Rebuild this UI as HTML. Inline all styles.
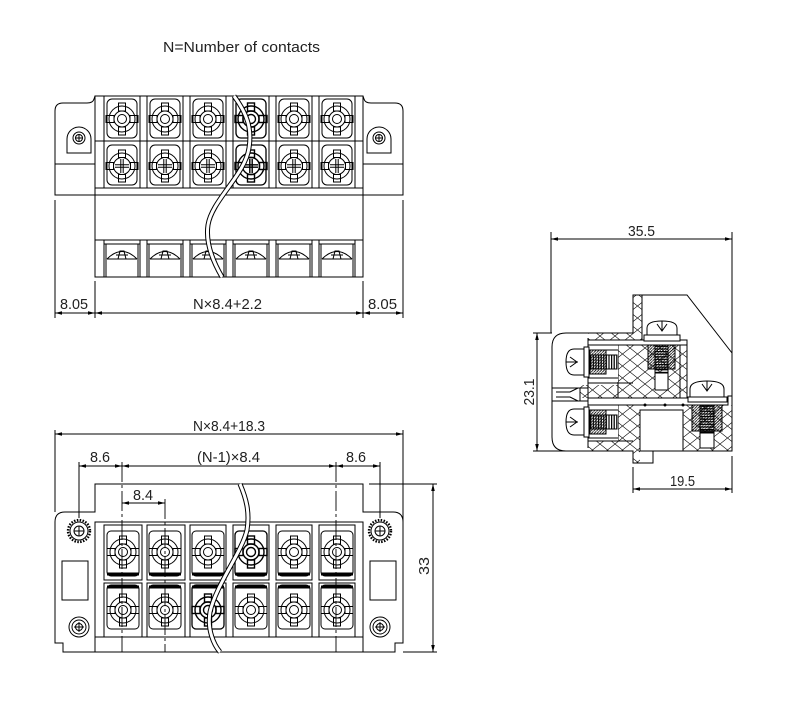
<!DOCTYPE html>
<html><head><meta charset="utf-8"><style>
html,body{margin:0;padding:0;background:#fff;}
svg{display:block;}
text{font-family:"Liberation Sans",sans-serif;fill:#222;font-size:15px;}
</style></head><body>
<svg width="800" height="724" viewBox="0 0 800 724" xmlns="http://www.w3.org/2000/svg">
<defs>
<pattern id="xh" width="15" height="12" patternUnits="userSpaceOnUse"><path d="M0 0L15 12M15 0L0 12" stroke="#000" stroke-width="0.6" fill="none"/></pattern>
<pattern id="dh" width="2.8" height="2.8" patternUnits="userSpaceOnUse"><path d="M-1 3.8L3.8 -1" stroke="#000" stroke-width="0.8"/></pattern>
<pattern id="vl" width="2.6" height="4" patternUnits="userSpaceOnUse"><rect width="1.2" height="4" fill="#000"/></pattern>
<pattern id="hl" width="4" height="2.6" patternUnits="userSpaceOnUse"><rect width="4" height="1.2" fill="#000"/></pattern>
<g id="m">
 <circle r="13"/>
 <circle r="8"/>
 <circle r="4.5"/>
 <rect x="-3.5" y="-16" width="7" height="8"/>
 <rect x="-3.5" y="8" width="7" height="8"/>
 <rect x="-16" y="-3.5" width="8" height="7"/>
 <rect x="8" y="-3.5" width="8" height="7"/>
</g>
<g id="mx">
 <circle r="13"/>
 <circle r="8.5"/>
 <rect x="-3.5" y="-16" width="7" height="7.5"/>
 <rect x="-3.5" y="8.5" width="7" height="7.5"/>
 <rect x="-16" y="-3.5" width="7.5" height="7"/>
 <rect x="8.5" y="-3.5" width="7.5" height="7"/>
 <path d="M-7 -1.2H7M-7 1.2H7M-1.2 -7V7M1.2 -7V7"/>
</g>
<g id="lp">
 <path d="M-18 4H18M-16 4V37M16 4V37"/>
 <path d="M-15 19Q0 4 15 19"/>
 <path d="M-15 19H15"/>
 <path d="M-4 19L-2 11H2L4 19"/>
 <path d="M-6 15H6"/>
</g>
<g id="tw">
 <circle r="11" stroke-width="2.4" stroke-dasharray="1.5 1.4"/>
 <circle r="9"/>
 <circle r="5"/>
 <path d="M0 -5V5M-5 0H5"/>
</g>
<g id="sc">
 <circle r="10"/>
 <circle r="7"/>
 <circle r="3.5"/>
 <path d="M0 -5V5M-5 0H5"/>
</g>
</defs>

<rect width="800" height="724" fill="#fff"/>

<text x="163" y="52" textLength="157" lengthAdjust="spacingAndGlyphs">N=Number of contacts</text>

<!-- ================= TOP VIEW ================= -->
<g fill="none" stroke="#000" stroke-width="1">
 <path d="M55 195 L55 111 Q55 103 63 103 L87 103 Q93 103 94 99 L95 96 L363 96 L364 99 Q365 103 371 103 L395 103 Q403 103 403 111 L403 195 Z"/>
 <rect x="95" y="96" width="268" height="181"/>
 <path d="M55 164H95M363 164H403"/>
 <path d="M95 141H363M95 188H363M95 240H363"/>
 <path d="M67 153V139A12 12 0 0 1 91 139V153Z"/>
 <circle cx="79" cy="138" r="6"/><circle cx="79" cy="138" r="3.5"/><path d="M79 134V142M75 138H83"/>
 <path d="M367 153V139A12 12 0 0 1 391 139V153Z"/>
 <circle cx="379" cy="138" r="6"/><circle cx="379" cy="138" r="3.5"/><path d="M379 134V142M375 138H383"/>
 <rect x="104" y="96" width="36" height="92"/>
 <rect x="147" y="96" width="36" height="92"/>
 <rect x="190" y="96" width="36" height="92"/>
 <rect x="233" y="96" width="36" height="92"/>
 <rect x="276" y="96" width="36" height="92"/>
 <rect x="319" y="96" width="36" height="92"/>
 <path d="M104 141H355"/>
 <rect x="104" y="240" width="36" height="37"/>
 <rect x="147" y="240" width="36" height="37"/>
 <rect x="190" y="240" width="36" height="37"/>
 <rect x="233" y="240" width="36" height="37"/>
 <rect x="276" y="240" width="36" height="37"/>
 <rect x="319" y="240" width="36" height="37"/>
 <rect x="107" y="99" width="30" height="39" rx="5"/>
 <rect x="150" y="99" width="30" height="39" rx="5"/>
 <rect x="193" y="99" width="30" height="39" rx="5"/>
 <rect x="236" y="99" width="30" height="39" rx="5" stroke-width="1.3"/>
 <rect x="279" y="99" width="30" height="39" rx="5"/>
 <rect x="322" y="99" width="30" height="39" rx="5"/>
 <rect x="107" y="145" width="30" height="40" rx="5"/>
 <rect x="150" y="145" width="30" height="40" rx="5"/>
 <rect x="193" y="145" width="30" height="40" rx="5"/>
 <rect x="236" y="145" width="30" height="40" rx="5" stroke-width="1.3"/>
 <rect x="279" y="145" width="30" height="40" rx="5"/>
 <rect x="322" y="145" width="30" height="40" rx="5"/>
 <use href="#m" x="122" y="119"/>
 <use href="#m" x="165" y="119"/>
 <use href="#m" x="208" y="119"/>
 <use href="#m" x="251" y="119" stroke-width="1.4"/>
 <use href="#m" x="294" y="119"/>
 <use href="#m" x="337" y="119"/>
 <use href="#mx" x="122" y="166"/>
 <use href="#mx" x="165" y="166"/>
 <use href="#mx" x="208" y="166"/>
 <use href="#mx" x="251" y="166" stroke-width="1.4"/>
 <use href="#mx" x="294" y="166"/>
 <use href="#mx" x="337" y="166"/>
 <use href="#lp" x="122" y="240"/>
 <use href="#lp" x="165" y="240"/>
 <use href="#lp" x="208" y="240"/>
 <use href="#lp" x="251" y="240"/>
 <use href="#lp" x="294" y="240"/>
 <use href="#lp" x="337" y="240"/>
 <path d="M234 96 C248 115,252 130,249 148 C245 175,212 200,208 225 C205 245,215 265,222 277" stroke-width="5"/>
 <path d="M234 96 C248 115,252 130,249 148 C245 175,212 200,208 225 C205 245,215 265,222 277" stroke="#fff" stroke-width="3"/>
 <path d="M55 200V318M95 281V318M363 281V318M403 200V318M55 313H403"/>
</g>
<g fill="#000">
 <polygon points="55,313 62,311.2 62,314.8"/>
 <polygon points="95,313 88,311.2 88,314.8"/>
 <polygon points="95,313 102,311.2 102,314.8"/>
 <polygon points="363,313 356,311.2 356,314.8"/>
 <polygon points="363,313 370,311.2 370,314.8"/>
 <polygon points="403,313 396,311.2 396,314.8"/>
</g>
<text x="60" y="309" textLength="28" lengthAdjust="spacingAndGlyphs">8.05</text>
<text x="193" y="309" textLength="69" lengthAdjust="spacingAndGlyphs">N×8.4+2.2</text>
<text x="368" y="309" textLength="29" lengthAdjust="spacingAndGlyphs">8.05</text>

<!-- ================= BOTTOM VIEW ================= -->
<g fill="none" stroke="#000" stroke-width="1">
 <path d="M63 652 L63 643 L55 643 L55 522 Q55 512 65 512 L95 512 L95 484 L363 484 L363 512 L393 512 Q403 512 403 522 L403 643 L395 643 L395 652 Z"/>
 <rect x="95" y="522" width="268" height="130"/>
 <path d="M95 637H363"/>
 <rect x="62" y="561" width="26" height="39"/>
 <rect x="370" y="561" width="26" height="39"/>
 <use href="#tw" x="79" y="531"/>
 <use href="#tw" x="380" y="531"/>
 <use href="#sc" x="79" y="627"/>
 <use href="#sc" x="380" y="627"/>
 <rect x="104" y="525" width="38" height="55"/>
 <rect x="147" y="525" width="38" height="55"/>
 <rect x="190" y="525" width="36" height="55"/>
 <rect x="233" y="525" width="36" height="55"/>
 <rect x="276" y="525" width="36" height="55"/>
 <rect x="319" y="525" width="36" height="55"/>
 <rect x="104" y="583" width="38" height="54"/>
 <rect x="147" y="583" width="38" height="54"/>
 <rect x="190" y="583" width="36" height="54"/>
 <rect x="233" y="583" width="36" height="54"/>
 <rect x="276" y="583" width="36" height="54"/>
 <rect x="319" y="583" width="36" height="54"/>
 <rect x="107" y="531" width="32" height="45" rx="4"/>
 <rect x="149" y="531" width="32" height="45" rx="4"/>
 <rect x="192" y="531" width="32" height="45" rx="4"/>
 <rect x="235" y="531" width="32" height="45" rx="4" stroke-width="1.3"/>
 <rect x="278" y="531" width="32" height="45" rx="4"/>
 <rect x="321" y="531" width="32" height="45" rx="4"/>
 <rect x="107" y="585" width="32" height="44" rx="4"/>
 <rect x="149" y="585" width="32" height="44" rx="4"/>
 <rect x="192" y="585" width="32" height="44" rx="4" stroke-width="1.3"/>
 <rect x="235" y="585" width="32" height="44" rx="4"/>
 <rect x="278" y="585" width="32" height="44" rx="4"/>
 <rect x="321" y="585" width="32" height="44" rx="4"/>
 <path d="M107 574H139M149 574H181M192 574H224M235 574H267M278 574H310M321 574H353" stroke-width="3"/>
 <path d="M107 587H139M149 587H181M192 587H224M235 587H267M278 587H310M321 587H353" stroke-width="3"/>
 <use href="#m" x="123" y="552"/>
 <use href="#m" x="165" y="552"/>
 <use href="#m" x="208" y="552"/>
 <use href="#m" x="251" y="552" stroke-width="1.4"/>
 <use href="#m" x="294" y="552"/>
 <use href="#m" x="337" y="552"/>
 <use href="#m" x="123" y="610"/>
 <use href="#m" x="165" y="610"/>
 <use href="#m" x="208" y="610" stroke-width="1.4"/>
 <use href="#m" x="251" y="610"/>
 <use href="#m" x="294" y="610"/>
 <use href="#m" x="337" y="610"/>
 <path d="M240 484 C246 498,250 512,247 530 C242 552,216 585,210 612 C207 630,214 645,220 652" stroke-width="5"/>
 <path d="M240 484 C246 498,250 512,247 530 C242 552,216 585,210 612 C207 630,214 645,220 652" stroke="#fff" stroke-width="3"/>
 <path d="M122 462V652M336 462V652M165 499V652" stroke-dasharray="20 3 3 3" stroke-width="0.9"/>
 <path d="M55 430V512M403 430V522M55 434H403"/>
 <path d="M79 462V518M380 462V518M79 466H380"/>
 <path d="M122 503H165"/>
 <path d="M369 484H437M403 652H437M433 484V652"/>
</g>
<g fill="#000">
 <polygon points="55,434 62,432.2 62,435.8"/>
 <polygon points="403,434 396,432.2 396,435.8"/>
 <polygon points="79,466 86,464.2 86,467.8"/>
 <polygon points="122,466 115,464.2 115,467.8"/>
 <polygon points="122,466 129,464.2 129,467.8"/>
 <polygon points="336,466 329,464.2 329,467.8"/>
 <polygon points="336,466 343,464.2 343,467.8"/>
 <polygon points="380,466 373,464.2 373,467.8"/>
 <polygon points="122,503 129,501.2 129,504.8"/>
 <polygon points="165,503 158,501.2 158,504.8"/>
 <polygon points="433,484 431.2,491 434.8,491"/>
 <polygon points="433,652 431.2,645 434.8,645"/>
</g>
<text x="193" y="431" textLength="72" lengthAdjust="spacingAndGlyphs">N×8.4+18.3</text>
<text x="90" y="462" textLength="20" lengthAdjust="spacingAndGlyphs">8.6</text>
<text x="197" y="462" textLength="63" lengthAdjust="spacingAndGlyphs">(N-1)×8.4</text>
<text x="346" y="462" textLength="20" lengthAdjust="spacingAndGlyphs">8.6</text>
<text x="133" y="500" textLength="20" lengthAdjust="spacingAndGlyphs">8.4</text>
<text transform="translate(429,566) rotate(-90)" text-anchor="middle" textLength="18" lengthAdjust="spacingAndGlyphs">33</text>

<!-- ================= SIDE VIEW ================= -->
<g fill="none" stroke="#000" stroke-width="1">
 <g stroke="none" fill="url(#xh)">
  <rect x="633" y="295" width="9" height="48"/>
  <rect x="588" y="333" width="45" height="10"/>
  <rect x="588" y="441" width="45" height="10"/>
  <rect x="575" y="385" width="112" height="13"/>
  <rect x="618" y="343" width="15" height="42"/>
  <rect x="618" y="405" width="15" height="36"/>
  <rect x="633" y="343" width="54" height="42"/>
  <rect x="633" y="405" width="7" height="58"/>
  <rect x="683" y="405" width="49" height="46"/>
 </g>
 <path d="M633 333 V295 H687 L732 353 V451 H653 V463 H633 V451 H566 Q552 451 552 437 V347 Q552 333 566 333 Z"/>
 <path d="M633 333H588M642 295V343M588 338V448M618 345V441"/>
 <path d="M680 343V398M687 343V398"/>
 <rect x="552" y="388" width="28" height="13" fill="#fff"/>
 <path d="M552 388H588M552 401H588M556 392H570L578 388M556 397H570L578 401"/>
 <rect x="589" y="345" width="29" height="37" fill="#fff" stroke="none"/>
 <rect x="589" y="405" width="29" height="36" fill="#fff" stroke="none"/>
 <path d="M588 345H633M588 350H618M588 378H618M588 383H633M588 410H618M588 438H618M588 441H633"/>
 <rect x="588" y="340" width="99" height="5" fill="#fff"/>
 <rect x="588" y="398" width="140" height="7" fill="#fff"/>
 <path d="M728 405V396H732"/>
 <circle cx="645" cy="405" r="1" fill="#000"/><circle cx="665" cy="405" r="1" fill="#000"/><circle cx="683" cy="405" r="1" fill="#000"/>
 <path d="M584 349H574Q566 349 566 362Q566 375 574 375H584Z" fill="#fff"/>
 <path d="M566 362H578M570 357L577 362L570 367"/>
 <rect x="584" y="347" width="5" height="30" fill="#fff"/>
 <rect x="590" y="350" width="16" height="24" fill="url(#dh)"/>
 <rect x="590" y="355" width="27" height="14" fill="url(#vl)"/>
 <path d="M584 409H574Q566 409 566 422Q566 435 574 435H584Z" fill="#fff"/>
 <path d="M566 422H578M570 417L577 422L570 427"/>
 <rect x="584" y="407" width="5" height="30" fill="#fff"/>
 <rect x="590" y="410" width="16" height="24" fill="url(#dh)"/>
 <rect x="590" y="415" width="27" height="14" fill="url(#vl)"/>
 <rect x="648" y="345" width="27" height="24" fill="url(#dh)"/>
 <rect x="655" y="345" width="13" height="28" fill="url(#hl)"/>
 <rect x="655" y="373" width="13" height="17" fill="#fff"/>
 <path d="M647 335V328Q647 321 662 321Q677 321 677 328V335Z" fill="#fff"/>
 <path d="M662 321V331M657 324L662 331L667 324"/>
 <rect x="644" y="335" width="36" height="6" fill="#fff"/>
 <rect x="640" y="410" width="43" height="41" fill="#fff"/>
 <rect x="692" y="405" width="30" height="26" fill="url(#dh)"/>
 <rect x="700" y="405" width="14" height="28" fill="url(#hl)"/>
 <rect x="700" y="433" width="14" height="15" fill="#fff"/>
 <path d="M690 397V389Q690 381 707 381Q724 381 724 389V397Z" fill="#fff"/>
 <path d="M707 381V391M702 384L707 391L712 384"/>
 <rect x="688" y="397" width="39" height="5" fill="#fff"/>
 <path d="M551 232V333M732 232V353M551 239H732"/>
 <path d="M533 333H552M533 451H566M537 333V451"/>
 <path d="M633 467V493M732 456V493M633 489H732"/>
</g>
<g fill="#000">
 <polygon points="551,239 558,237.2 558,240.8"/>
 <polygon points="732,239 725,237.2 725,240.8"/>
 <polygon points="537,333 535.2,340 538.8,340"/>
 <polygon points="537,451 535.2,444 538.8,444"/>
 <polygon points="633,489 640,487.2 640,490.8"/>
 <polygon points="732,489 725,487.2 725,490.8"/>
</g>
<text x="628" y="236" textLength="27" lengthAdjust="spacingAndGlyphs">35.5</text>
<text transform="translate(534,392) rotate(-90)" text-anchor="middle" textLength="27" lengthAdjust="spacingAndGlyphs">23.1</text>
<text x="670" y="486" textLength="25" lengthAdjust="spacingAndGlyphs">19.5</text>
</svg>
</body></html>
